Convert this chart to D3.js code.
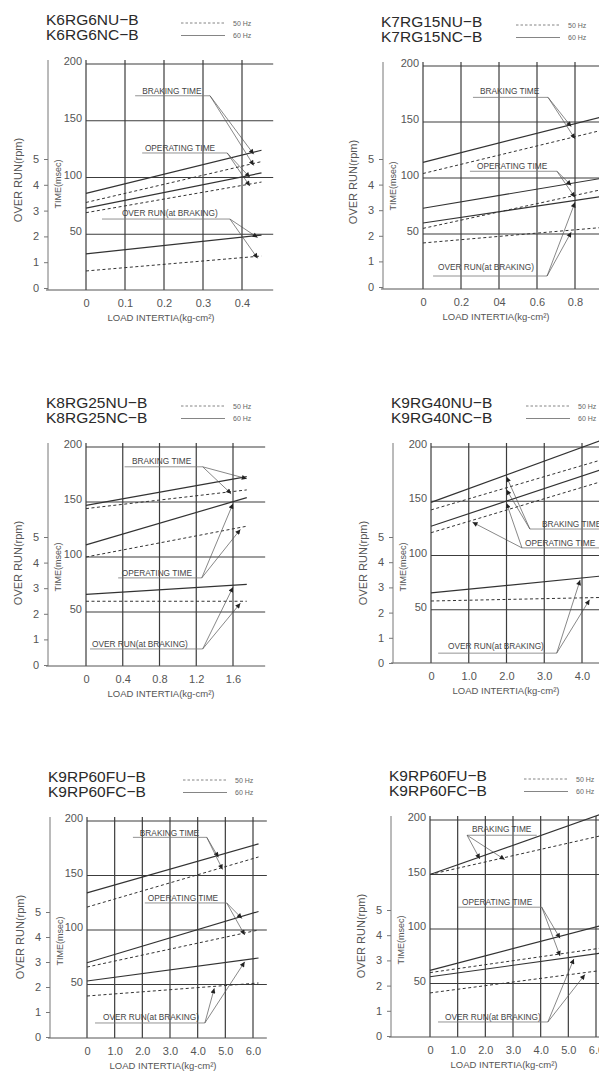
<!DOCTYPE html>
<html>
<head>
<meta charset="utf-8">
<script src="https://cdn.jsdelivr.net/npm/d3@7"></script>
<style>
  body { margin: 0; background: #fff; }
  text { font-family: "Liberation Sans", Arial, sans-serif; }
</style>
</head>
<body>
<div id="chart"></div>
<script>
// Set up SVG dimensions
const w = 599;
const h = 1073;

// Model names, one pair per panel
const models = [
  ["K6RG6NU\u2212B", "K6RG6NC\u2212B"],
  ["K7RG15NU\u2212B", "K7RG15NC\u2212B"],
  ["K8RG25NU\u2212B", "K8RG25NC\u2212B"],
  ["K9RG40NU\u2212B", "K9RG40NC\u2212B"],
  ["K9RP60FU\u2212B", "K9RP60FC\u2212B"],
  ["K9RP60FU\u2212B", "K9RP60FC\u2212B"]
];

// X ticks (load inertia, kg-cm2)
const xTickValues = [
  [0, 0.1, 0.2, 0.3, 0.4],
  [0, 0.2, 0.4, 0.6, 0.8],
  [0, 0.4, 0.8, 1.2, 1.6],
  [0, 1, 2, 3, 4],
  [0, 1, 2, 3, 4, 5, 6],
  [0, 1, 2, 3, 4, 5, 6]
];
const xTickLabels = [
  ["0", "0.1", "0.2", "0.3", "0.4"],
  ["0", "0.2", "04", "0.6", "0.8"],
  ["0", "0.4", "0.8", "1.2", "1.6"],
  ["0", "1.0", "2.0", "3.0", "4.0"],
  ["0", "1.0", "2.0", "3.0", "4.0", "5.0", "6.0"],
  ["0", "1.0", "2.0", "3.0", "4.0", "5.0", "6.0"]
];
const timeTicks = [50, 100, 150, 200];
const overRunTicks = [0, 1, 2, 3, 4, 5];
const legendLabels = ["50 Hz", "60 Hz"];
const noteLabels = ["BRAKING TIME", "OPERATING TIME", "OVER RUN(at BRAKING)"];

// Series: [[x, value], [x, value]] per panel (time in msec, over run in rpm)
const brakingTime60 = [
  [[0, 86], [0.45, 124]], [[0, 114], [0.95, 155]], [[0, 147], [1.75, 173]],
  [[0, 149], [4.5, 206]], [[0, 134], [6.2, 179]], [[0, 150], [6.6, 209]]
];
const brakingTime50 = [
  [[0, 78], [0.45, 114]], [[0, 104], [0.95, 143]], [[0, 144], [1.75, 161]],
  [[0, 142], [4.5, 188]], [[0, 121], [6.2, 167]], [[0, 150], [6.6, 188]]
];
const operatingTime60 = [
  [[0, 73], [0.45, 104]], [[0, 73], [0.95, 100]], [[0, 111], [1.75, 154]],
  [[0, 127], [4.5, 179]], [[0, 70], [6.2, 117]], [[0, 62], [6.6, 106]]
];
const operatingTime50 = [
  [[0, 69], [0.45, 96]], [[0, 55], [0.95, 90]], [[0, 100], [1.75, 128]],
  [[0, 121], [4.5, 168]], [[0, 66], [6.2, 100]], [[0, 60], [6.6, 84]]
];
const overRun60 = [
  [[0, 1.32], [0.45, 2.05]], [[0, 2.5], [0.95, 3.55]], [[0, 2.76], [1.75, 3.15]],
  [[0, 2.78], [4.5, 3.45]], [[0, 2.24], [6.2, 3.16]], [[0, 2.35], [6.6, 3.35]]
];
const overRun50 = [
  [[0, 0.66], [0.45, 1.24]], [[0, 1.72], [0.95, 2.33]], [[0, 2.49], [1.75, 2.49]],
  [[0, 2.46], [4.5, 2.6]], [[0, 1.64], [6.2, 2.16]], [[0, 1.71], [6.6, 2.66]]
];

// Panel geometry (pixels)
const layout = [
  {ox: 48,  xr: [86, 242],  xEnd: 0.48, t: [291, 64],   r: [288, 159]},
  {ox: 383, xr: [423, 575], xEnd: 1.0,  t: [290, 66],   r: [287, 159]},
  {ox: 48,  xr: [86, 233],  xEnd: 1.95, t: [667, 447],  r: [665, 537]},
  {ox: 393, xr: [431, 582], xEnd: 4.8,  t: [664, 447],  r: [663, 537]},
  {ox: 50,  xr: [87, 253],  xEnd: 6.5,  t: [1039, 821], r: [1037, 912]},
  {ox: 391, xr: [430, 596], xEnd: 6.6,  t: [1038, 820], r: [1036, 910]}
];

// Annotation placement: label at (tx, ty), underline u at uy, arrows from one end to [series, x]
const notes = [
  [
    {tx: 0.144, ty: 174, u: [0.126, 0.318], uy: 172, from: 1, to: [["br60", 0.43], ["br50", 0.43]]},
    {tx: 0.151, ty: 123, u: [0.144, 0.362], uy: 121.6, from: 1, to: [["op60", 0.42], ["op50", 0.42]]},
    {tx: 0.092, ty: 66, u: [0.041, 0.369], uy: 63.4, from: 1, to: [["or60", 0.44], ["or50", 0.44]]}
  ],
  [
    {tx: 0.3, ty: 175, u: [0.263, 0.658], uy: 172, from: 1, to: [["br60", 0.78], ["br50", 0.8]]},
    {tx: 0.284, ty: 108, u: [0.247, 0.705], uy: 106, from: 1, to: [["op60", 0.78], ["op50", 0.8]]},
    {tx: 0.079, ty: 18, u: [0.053, 0.653], uy: 12.5, from: 1, to: [["or60", 0.8], ["or50", 0.78]]}
  ],
  [
    {tx: 0.5, ty: 184.5, u: [0.42, 1.27], uy: 182, from: 1, to: [["br60", 1.75], ["br50", 1.58]]},
    {tx: 0.39, ty: 83, u: [0.35, 1.26], uy: 81, from: 1, to: [["op60", 1.6], ["op50", 1.68]]},
    {tx: 0.065, ty: 18, u: [0.044, 1.27], uy: 16.4, from: 1, to: [["or60", 1.6], ["or50", 1.68]]}
  ],
  [
    {tx: 2.94, ty: 126, u: [2.62, 4.8], uy: 124.4, from: 0, to: [["br60", 2.0], ["br50", 2.0]]},
    {tx: 2.49, ty: 109, u: [2.41, 4.8], uy: 107, from: 0, to: [["op60", 2.0], ["op50", 1.1]]},
    {tx: 0.45, ty: 14, u: [0.19, 3.33], uy: 10, from: 1, to: [["or60", 3.95], ["or50", 4.2]]}
  ],
  [
    {tx: 1.91, ty: 186, u: [1.66, 4.33], uy: 185, from: 1, to: [["br60", 4.75], ["br50", 4.9]]},
    {tx: 2.2, ty: 126.6, u: [2.09, 5.05], uy: 124.8, from: 1, to: [["op60", 5.6], ["op50", 5.7]]},
    {tx: 0.58, ty: 17.4, u: [0.29, 4.26], uy: 14.7, from: 1, to: [["or60", 5.7], ["or50", 4.6]]}
  ],
  [
    {tx: 1.52, ty: 189, u: [1.34, 3.86], uy: 186, from: 0, to: [["br60", 1.8], ["br50", 2.7]]},
    {tx: 1.16, ty: 122, u: [1.01, 4.04], uy: 120, from: 1, to: [["op60", 4.7], ["op50", 4.7]]},
    {tx: 0.54, ty: 16.5, u: [0.29, 4.26], uy: 14.7, from: 1, to: [["or60", 5.2], ["or50", 5.6]]}
  ]
];

const svg = d3.select("#chart")
  .append("svg")
  .attr("width", w)
  .attr("height", h)
  .style("background-color", "white");

svg.append("defs").append("marker")
  .attr("id", "arrow")
  .attr("viewBox", "0 0 10 10")
  .attr("refX", 10)
  .attr("refY", 5)
  .attr("markerUnits", "userSpaceOnUse")
  .attr("markerWidth", 7)
  .attr("markerHeight", 5)
  .attr("orient", "auto")
  .append("path")
  .attr("d", "M0,0L10,5L0,10z")
  .attr("fill", "#222");

const gridColor = "#3c3c3c";
const lineColor = "#333";

models.forEach(function (names, i) {
  const L = layout[i];
  const ticks = xTickValues[i];
  const xScale = d3.scaleLinear().domain([0, ticks[ticks.length - 1]]).range(L.xr);
  const tScale = d3.scaleLinear().domain([0, 200]).range(L.t);
  const rScale = d3.scaleLinear().domain([0, 5]).range(L.r);
  const yTop = L.t[1];
  const yBot = L.t[0] - 1;
  const xRight = xScale(L.xEnd);
  const g = svg.append("g");

  const series = {
    br60: {d: brakingTime60[i], y: tScale, dash: null},
    br50: {d: brakingTime50[i], y: tScale, dash: "3,2.5"},
    op60: {d: operatingTime60[i], y: tScale, dash: null},
    op50: {d: operatingTime50[i], y: tScale, dash: "3,2.5"},
    or60: {d: overRun60[i], y: rScale, dash: null},
    or50: {d: overRun50[i], y: rScale, dash: "3,2.5"}
  };

  // Title
  g.selectAll(".title")
    .data(names)
    .enter()
    .append("text")
    .attr("x", L.ox - 2)
    .attr("y", (d, k) => yTop - 39 + k * 15)
    .attr("font-size", "15.5px")
    .attr("fill", "#2a2a2a")
    .text(d => d);

  // Legend
  legendLabels.forEach(function (lab, k) {
    const ly = yTop - 41 + k * 12.5;
    g.append("line")
      .attr("x1", L.ox + 133).attr("x2", L.ox + 177)
      .attr("y1", ly).attr("y2", ly)
      .attr("stroke", "#666")
      .attr("stroke-width", 0.8)
      .attr("stroke-dasharray", k === 0 ? "2.5,2" : null);
    g.append("text")
      .attr("x", L.ox + 185)
      .attr("y", ly + 2.5)
      .attr("font-size", "7px")
      .attr("fill", "#666")
      .text(lab);
  });

  // Horizontal grid
  g.selectAll(".hgrid")
    .data(timeTicks)
    .enter()
    .append("line")
    .attr("x1", xScale(0)).attr("x2", xRight)
    .attr("y1", d => tScale(d)).attr("y2", d => tScale(d))
    .attr("stroke", gridColor)
    .attr("stroke-width", 1.2);

  // Vertical grid
  g.selectAll(".vgrid")
    .data(ticks)
    .enter()
    .append("line")
    .attr("x1", d => xScale(d)).attr("x2", d => xScale(d))
    .attr("y1", yTop - 4).attr("y2", yBot)
    .attr("stroke", gridColor)
    .attr("stroke-width", 1.2);

  // Time labels
  g.selectAll(".tlab")
    .data(timeTicks)
    .enter()
    .append("text")
    .attr("x", xScale(0) - 4)
    .attr("y", d => tScale(d) + 1)
    .attr("text-anchor", "end")
    .attr("font-size", "11px")
    .attr("fill", "#555")
    .text(d => d);

  // Bottom axis (load inertia)
  const xAxis = d3.axisBottom(xScale)
    .tickValues(ticks)
    .tickSize(0)
    .tickPadding(9)
    .tickFormat((d, k) => xTickLabels[i][k]);
  const xg = g.append("g")
    .attr("transform", "translate(0," + yBot + ")")
    .call(xAxis);
  xg.select(".domain").remove();
  xg.selectAll("text")
    .attr("font-size", "11px")
    .attr("fill", "#555");
  g.append("line")
    .attr("x1", L.ox - 2).attr("x2", xRight)
    .attr("y1", yBot).attr("y2", yBot)
    .attr("stroke", "#555")
    .attr("stroke-width", 1);

  // Over run axis
  const rAxis = d3.axisLeft(rScale)
    .tickValues(overRunTicks)
    .tickFormat(d3.format("d"))
    .tickSize(4)
    .tickPadding(5);
  const rg = g.append("g")
    .attr("transform", "translate(" + L.ox + ",0)")
    .call(rAxis);
  rg.select(".domain").remove();
  rg.selectAll("line").attr("stroke", "#777");
  rg.selectAll("text")
    .attr("font-size", "11px")
    .attr("fill", "#555");
  g.append("line")
    .attr("x1", L.ox).attr("x2", L.ox)
    .attr("y1", yTop - 4).attr("y2", yBot)
    .attr("stroke", "#777")
    .attr("stroke-width", 1);

  // Axis titles
  g.append("text")
    .attr("transform", "translate(" + (L.ox - 26) + "," + (yTop + 116) + ") rotate(-90)")
    .attr("text-anchor", "middle")
    .attr("font-size", "11px")
    .attr("fill", "#555")
    .text("OVER RUN(rpm)");
  g.append("text")
    .attr("transform", "translate(" + (L.ox + 13) + "," + (yTop + 120) + ") rotate(-90)")
    .attr("text-anchor", "middle")
    .attr("font-size", "9px")
    .attr("fill", "#555")
    .text("TIME(msec)");
  g.append("text")
    .attr("x", L.ox + 113)
    .attr("y", yBot + 31)
    .attr("text-anchor", "middle")
    .attr("font-size", "9.5px")
    .attr("fill", "#555")
    .text("LOAD INTERTIA(kg-cm\u00b2)");

  // Curves
  Object.keys(series).forEach(function (key) {
    const s = series[key];
    g.append("path")
      .datum(s.d)
      .attr("d", d3.line().x(d => xScale(d[0])).y(d => s.y(d[1])))
      .attr("fill", "none")
      .attr("stroke", lineColor)
      .attr("stroke-width", s.dash ? 1 : 1.2)
      .attr("stroke-dasharray", s.dash);
  });

  // Annotations
  notes[i].forEach(function (n, k) {
    g.append("text")
      .attr("x", xScale(n.tx))
      .attr("y", tScale(n.ty))
      .attr("font-size", "8.3px")
      .attr("fill", "#444")
      .text(noteLabels[k]);
    g.append("line")
      .attr("x1", xScale(n.u[0])).attr("x2", xScale(n.u[1]))
      .attr("y1", tScale(n.uy)).attr("y2", tScale(n.uy))
      .attr("stroke", "#777")
      .attr("stroke-width", 0.8);
    const fx = xScale(n.u[n.from]);
    const fy = tScale(n.uy);
    n.to.forEach(function (tgt) {
      const s = series[tgt[0]];
      const along = d3.scaleLinear().domain([s.d[0][0], s.d[1][0]]).range([s.d[0][1], s.d[1][1]]);
      g.append("line")
        .attr("x1", fx).attr("y1", fy)
        .attr("x2", xScale(tgt[1]))
        .attr("y2", s.y(along(tgt[1])) + 2)
        .attr("stroke", "#555")
        .attr("stroke-width", 0.7)
        .attr("marker-end", "url(#arrow)");
    });
  });
});
</script>
</body>
</html>
